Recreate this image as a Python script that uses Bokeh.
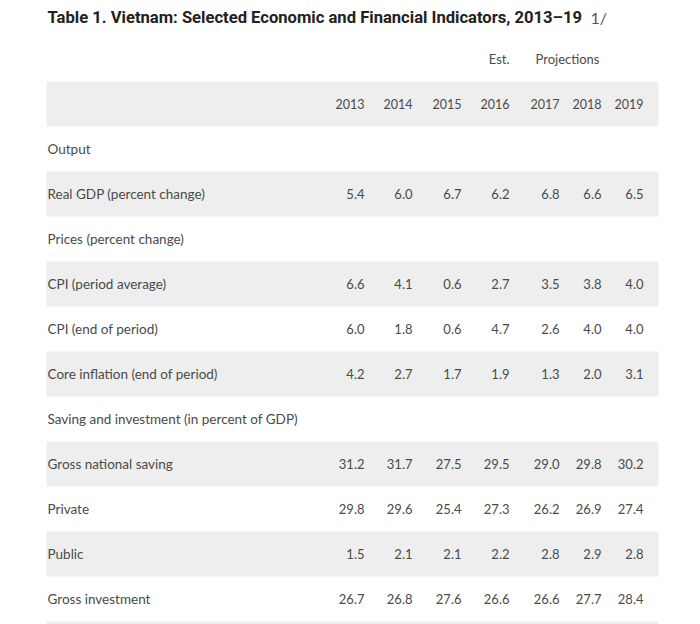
from bokeh.plotting import figure
from bokeh.models import Range1d
from bokeh.core.properties import value
from bokeh.embed import file_html
from bokeh.resources import INLINE

# ---- data ----
title_bold = "Table 1. Vietnam: Selected Economic and Financial Indicators, 2013\u201319"
title_note = "1/"
years = ["2013", "2014", "2015", "2016", "2017", "2018", "2019"]
row_labels = [
    "Output",
    "Real GDP (percent change)",
    "Prices (percent change)",
    "CPI (period average)",
    "CPI (end of period)",
    "Core inflation (end of period)",
    "Saving and investment (in percent of GDP)",
    "Gross national saving",
    "Private",
    "Public",
    "Gross investment",
]
real_gdp = [5.4, 6.0, 6.7, 6.2, 6.8, 6.6, 6.5]
cpi_avg = [6.6, 4.1, 0.6, 2.7, 3.5, 3.8, 4.0]
cpi_end = [6.0, 1.8, 0.6, 4.7, 2.6, 4.0, 4.0]
core_infl = [4.2, 2.7, 1.7, 1.9, 1.3, 2.0, 3.1]
gross_saving = [31.2, 31.7, 27.5, 29.5, 29.0, 29.8, 30.2]
private_saving = [29.8, 29.6, 25.4, 27.3, 26.2, 26.9, 27.4]
public_saving = [1.5, 2.1, 2.1, 2.2, 2.8, 2.9, 2.8]
gross_investment = [26.7, 26.8, 27.6, 26.6, 26.6, 27.7, 28.4]
row_values = [None, real_gdp, None, cpi_avg, cpi_end, core_infl, None,
              gross_saving, private_saving, public_saving, gross_investment]

# ---- layout (page pixel coordinates) ----
W, H = 700, 624
TABLE_L, TABLE_R = 46, 658
HEADER_TOP = 81
ROW_H = 45
LABEL_X = 47
COL_RIGHT = [364, 412, 461, 509, 559, 601, 643]
FONT = "Lato"
TXT = "#4a4a4a"
SHADE = "#eeeeee"
BODY_SIZE = "13.5px"

p = figure(width=W, height=H, output_backend="svg", toolbar_location=None,
           x_range=Range1d(0, W), y_range=Range1d(H, 0),
           min_border=0)
p.axis.visible = False
p.grid.visible = False
p.outline_line_color = None
p.background_fill_color = "white"
p.border_fill_color = "white"

n_rows = len(row_labels) + 2  # header + rows + one trailing band
tops, bottoms = [], []
for i in range(n_rows):
    if i % 2 == 0:
        t = HEADER_TOP + i * ROW_H
        tops.append(t)
        bottoms.append(t + ROW_H)
p.quad(left=TABLE_L, right=TABLE_R, top=tops, bottom=bottoms,
       fill_color=SHADE, line_color=None)

# title
p.text(x=[LABEL_X], y=[17], text=[title_bold], text_font=value("Roboto"),
       text_font_style="bold", text_font_size="16.6px", text_color="#222222",
       text_baseline="middle", text_align="left")
p.text(x=[590], y=[17], text=[title_note], text_font=value(FONT),
       text_font_size="16px", text_color="#555555",
       text_baseline="middle", text_align="left")

# super headers
p.text(x=[COL_RIGHT[3]], y=[58], text=["Est."], text_font=value(FONT),
       text_font_size="13px", text_color=TXT, text_baseline="middle", text_align="right")
p.text(x=[567], y=[58], text=["Projections"],
       text_font=value(FONT), text_font_size="13px", text_color=TXT,
       text_baseline="middle", text_align="center")

# year headers
hy = HEADER_TOP + ROW_H / 2
p.text(x=COL_RIGHT, y=[hy] * len(years), text=years, text_font=value(FONT),
       text_font_size="12.5px", text_color=TXT, text_baseline="middle", text_align="right")

# rows
lx, ly, vx, vy, vt = [], [], [], [], []
for i, (lab, vals) in enumerate(zip(row_labels, row_values)):
    yc = HEADER_TOP + (i + 1) * ROW_H + ROW_H / 2
    lx.append(LABEL_X)
    ly.append(yc)
    if vals is not None:
        for j, v in enumerate(vals):
            vx.append(COL_RIGHT[j])
            vy.append(yc)
            vt.append(f"{v:.1f}")

p.text(x=lx, y=ly, text=row_labels, text_font=value(FONT), text_font_size=BODY_SIZE,
       text_color=TXT, text_baseline="middle", text_align="left")
p.text(x=vx, y=vy, text=vt, text_font=value(FONT), text_font_size="13px",
       text_color=TXT, text_baseline="middle", text_align="right")

open("out.html", "w").write(file_html(p, INLINE))
